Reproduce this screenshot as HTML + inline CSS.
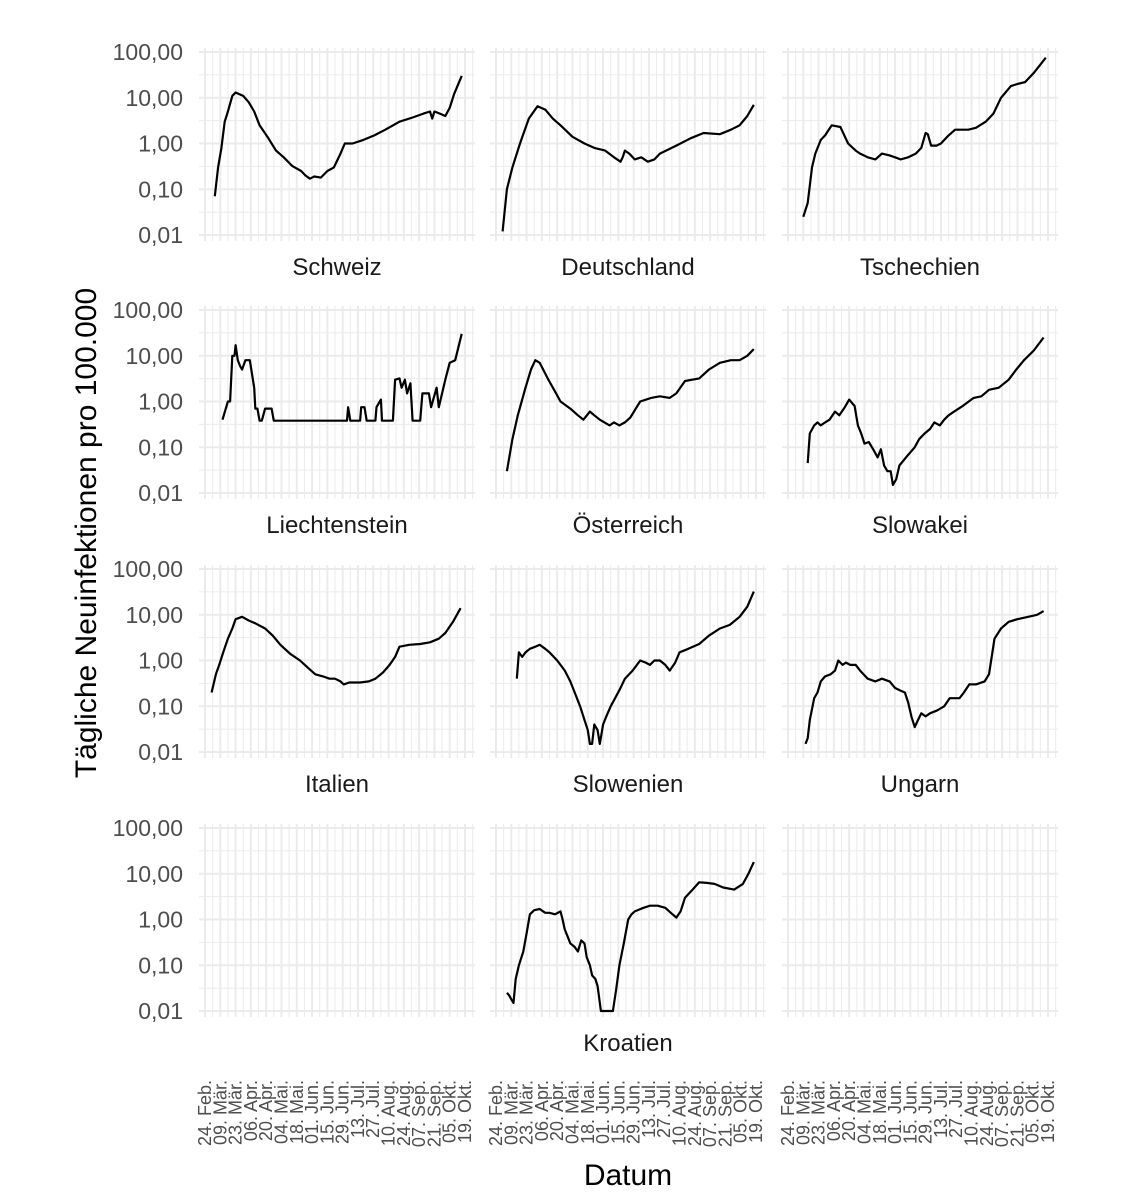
<!DOCTYPE html>
<html><head><meta charset="utf-8"><style>
html,body{margin:0;padding:0;background:#fff;}
svg{display:block;font-family:"Liberation Sans",sans-serif;}
</style></head><body>
<svg id="s" width="1137" height="1200" xmlns="http://www.w3.org/2000/svg"></svg>
<script>
const S=document.getElementById('s');let h='';
const colX=[0,291,583], rowT=[52,310,569,828];
const dec=45.75, pd=260/238;
const dates=["24. Feb.","09. Mär.","23. Mär.","06. Apr.","20. Apr.","04. Mai.","18. Mai.","01. Jun.","15. Jun.","29. Jun.","13. Jul.","27. Jul.","10. Aug.","24. Aug.","07. Sep.","21. Sep.","05. Okt.","19. Okt."];
const ylab=["100,00","10,00","1,00","0,10","0,01"];
const data={
"0,0":["Schweiz",[[9,.07],[12,.3],[15,.8],[18,3],[21,5],[25,11],[28,13],[35,11],[40,8],[45,5],[50,2.5],[58,1.3],[65,.7],[72,.5],[80,.32],[88,.25],[92,.2],[96,.17],[100,.19],[106,.18],[112,.25],[118,.3],[124,.6],[128,1.0],[135,1.0],[145,1.2],[155,1.5],[165,2],[178,3],[190,3.7],[200,4.5],[206,5],[208,3.5],[210,5],[215,4.5],[220,4],[224,6],[228,12],[235,30]]],
"0,1":["Deutschland",[[6,.012],[10,.1],[15,.3],[22,1],[30,3.5],[38,6.5],[45,5.5],[52,3.5],[59,2.5],[70,1.4],[81,1],[90,.8],[100,.7],[108,.5],[114,.4],[116,.5],[118,.7],[122,.6],[127,.45],[133,.5],[139,.4],[145,.45],[150,.6],[165,.9],[178,1.3],[190,1.7],[205,1.6],[215,2],[223,2.5],[230,4],[236,7]]],
"0,2":["Tschechien",[[14,.025],[18,.05],[22,.3],[25,.6],[30,1.2],[34,1.5],[40,2.5],[48,2.3],[55,1],[62,.7],[66,.6],[73,.5],[80,.45],[86,.6],[93,.55],[98,.5],[103,.45],[110,.5],[117,.6],[122,.8],[126,1.7],[128,1.6],[131,.9],[136,.9],[140,1],[147,1.5],[153,2],[165,2],[172,2.2],[181,3],[188,4.5],[195,10],[204,18],[210,20],[217,22],[225,35],[236,75]]],
"1,0":["Liechtenstein",[[16,.4],[21,1.0],[23,1],[25,10],[27,10],[28,17],[30,8],[32,6],[34,5],[37,8],[41,8],[45,2],[46,.7],[48,.7],[50,.38],[52,.38],[55,.7],[61,.7],[63,.38],[130,.38],[131,.75],[133,.38],[142,.38],[143,.75],[146,.75],[148,.38],[156,.38],[157,.75],[161,1.1],[162,.38],[172,.38],[174,3],[178,3.2],[180,2],[183,3],[185,1.5],[188,2.5],[190,.38],[197,.38],[199,1.5],[205,1.5],[207,.75],[212,2],[214,.75],[220,3],[224,7],[229,8],[235,30]]],
"1,1":["Österreich",[[10,.03],[15,.15],[20,.5],[27,2],[32,5],[36,8],[40,7],[48,3],[55,1.5],[59,1],[68,.7],[75,.5],[80,.4],[86,.6],[90,.5],[95,.4],[104,.3],[108,.35],[113,.3],[118,.35],[123,.45],[128,.7],[132,1],[142,1.2],[150,1.3],[159,1.2],[165,1.5],[173,2.8],[186,3.2],[195,5],[205,7],[215,8],[223,8],[230,10],[236,14]]],
"1,2":["Slowakei",[[18,.045],[20,.2],[24,.3],[27,.35],[30,.3],[34,.35],[38,.4],[43,.6],[47,.5],[52,.75],[56,1.1],[59,.9],[61,.8],[64,.3],[67,.2],[70,.12],[74,.13],[78,.09],[82,.06],[85,.09],[88,.04],[91,.03],[94,.03],[96,.015],[99,.02],[102,.04],[108,.06],[116,.1],[120,.15],[125,.2],[130,.25],[134,.35],[139,.3],[143,.4],[147,.5],[152,.6],[160,.8],[170,1.2],[177,1.3],[184,1.8],[193,2],[202,3],[209,5],[216,8],[225,13],[234,25]]],
"2,0":["Italien",[[6,.2],[10,.5],[13,.8],[17,1.6],[21,3],[25,5],[28,8],[34,9],[40,7.5],[46,6.5],[55,5],[62,3.5],[69,2.2],[78,1.4],[87,1],[94,.7],[101,.5],[108,.45],[114,.4],[119,.4],[124,.35],[127,.3],[132,.33],[142,.33],[150,.35],[156,.4],[163,.55],[169,.8],[174,1.2],[178,2],[187,2.2],[197,2.3],[206,2.5],[214,3],[220,4],[227,7],[234,14]]],
"2,1":["Slowenien",[[19,.4],[21,1.5],[24,1.2],[27,1.5],[31,1.8],[36,2],[40,2.2],[45,1.8],[49,1.5],[56,1],[63,.6],[68,.35],[72,.2],[77,.1],[81,.05],[84,.03],[86,.015],[88,.015],[90,.04],[93,.03],[95,.015],[98,.04],[101,.06],[105,.1],[109,.15],[114,.25],[118,.4],[125,.6],[132,1],[137,.9],[141,.8],[145,1],[150,1],[155,.8],[159,.6],[164,.9],[168,1.5],[176,1.8],[186,2.3],[195,3.5],[205,5],[214,6],[223,9],[230,15],[236,32]]],
"2,2":["Ungarn",[[16,.015],[18,.02],[20,.05],[24,.15],[27,.2],[30,.35],[34,.45],[39,.5],[43,.6],[46,1],[50,.8],[53,.9],[57,.8],[62,.8],[66,.6],[73,.4],[80,.35],[86,.4],[93,.35],[98,.25],[103,.22],[107,.2],[110,.12],[113,.06],[116,.035],[119,.05],[122,.07],[126,.06],[130,.07],[136,.08],[143,.1],[148,.15],[157,.15],[161,.2],[166,.3],[172,.3],[180,.35],[184,.5],[189,3],[195,5],[202,7],[210,8],[220,9],[228,10],[234,12]]],
"3,1":["Kroatien",[[10,.025],[12,.022],[14,.018],[16,.015],[18,.05],[21,.1],[25,.2],[28,.5],[31,1.3],[35,1.6],[40,1.7],[45,1.4],[49,1.4],[54,1.3],[59,1.5],[61,1],[63,.6],[66,.4],[68,.3],[72,.25],[75,.2],[78,.35],[81,.3],[83,.15],[86,.1],[88,.06],[91,.05],[93,.035],[96,.01],[107,.01],[110,.03],[113,.1],[117,.3],[121,1],[124,1.3],[127,1.5],[135,1.8],[141,2],[148,2],[155,1.8],[160,1.4],[165,1.1],[169,1.5],[173,3],[180,4.5],[186,6.5],[193,6.3],[200,6],[208,5],[218,4.5],[226,6],[231,10],[236,18]]]
};
for(let r=0;r<4;r++)for(let c=0;c<3;c++){
 const ox=colX[c], yt=rowT[r];
 const L=199+ox, R=475+ox, T=yt-4, B=yt+4*dec+6;
 for(let k=0;k<4;k++){const y=yt+(k+0.5)*dec;h+=`<line x1="${L}" x2="${R}" y1="${y}" y2="${y}" stroke="#ebebeb" stroke-width="1"/>`;}
 for(let k=-1;k<18;k++){const x=205+ox+(k*14+7)*pd;if(x>L&&x<R)h+=`<line x1="${x}" x2="${x}" y1="${T}" y2="${B}" stroke="#ebebeb" stroke-width="1"/>`;}
 for(let k=0;k<5;k++){const y=yt+k*dec;h+=`<line x1="${L}" x2="${R}" y1="${y}" y2="${y}" stroke="#ebebeb" stroke-width="2"/>`;
   if(c==0)h+=`<text x="183" y="${y+8}" font-size="23" fill="#4d4d4d" text-anchor="end">${ylab[k]}</text>`;}
 for(let k=0;k<18;k++){const x=205+ox+k*14*pd;h+=`<line x1="${x}" x2="${x}" y1="${T}" y2="${B}" stroke="#ebebeb" stroke-width="2"/>`;}
 const d=data[r+","+c];
 if(d){
  const pts=d[1].map(p=>`${(205+ox+p[0]*pd).toFixed(1)},${(yt+(2-Math.log10(p[1]))*dec).toFixed(1)}`).join(' ');
  h+=`<polyline points="${pts}" fill="none" stroke="#000" stroke-width="2.2" stroke-linejoin="round"/>`;
  h+=`<text x="${337+ox}" y="${yt+223}" font-size="24" fill="#1a1a1a" text-anchor="middle">${d[0]}</text>`;
 }
 if(r==3){for(let k=0;k<18;k++){const x=205+ox+k*14*pd+6;h+=`<text transform="translate(${x},1080) rotate(-90)" font-size="18" fill="#4d4d4d" text-anchor="end">${dates[k]}</text>`;}}
}
h+=`<text x="628" y="1185" font-size="30" fill="#000" text-anchor="middle">Datum</text>`;
h+=`<text transform="translate(96,533) rotate(-90)" font-size="30" fill="#000" text-anchor="middle">Tägliche Neuinfektionen pro 100.000</text>`;
S.innerHTML=h;
</script>
</body></html>
